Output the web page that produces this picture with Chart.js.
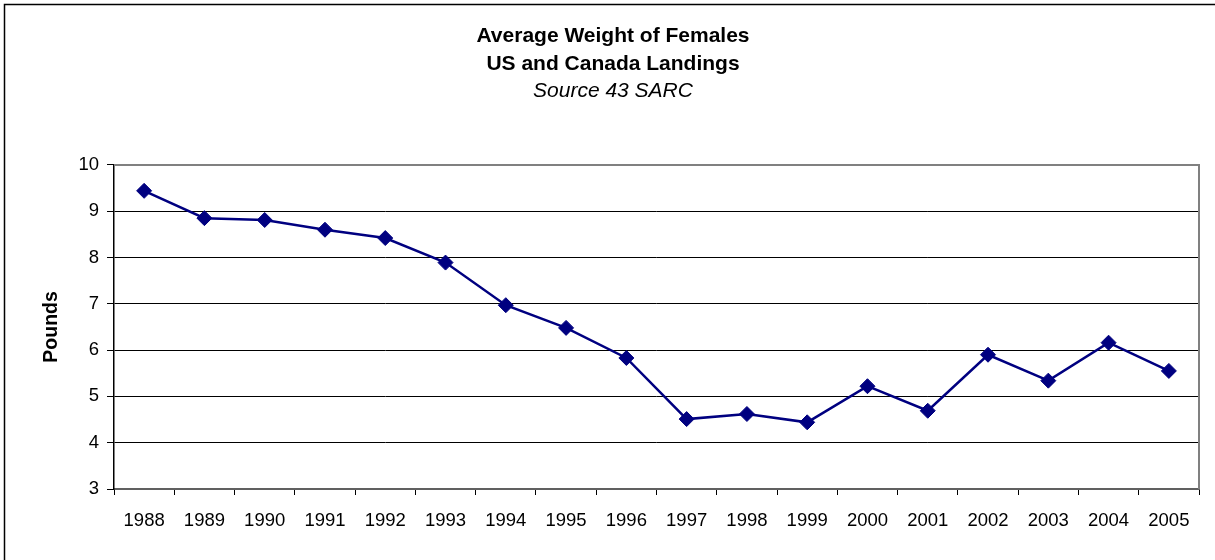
<!DOCTYPE html>
<html>
<head>
<meta charset="utf-8">
<script src="https://cdn.jsdelivr.net/npm/chart.js@4/dist/chart.umd.min.js"></script>
<style>
  html, body { margin: 0; padding: 0; background: #fff; }
  #wrap { width: 1215px; height: 560px; position: relative; }
</style>
</head>
<body>
<div id="wrap"><canvas id="grafico"></canvas></div>
<script>
const anos = ["1988", "1989", "1990", "1991", "1992", "1993", "1994", "1995", "1996",
  "1997", "1998", "1999", "2000", "2001", "2002", "2003", "2004", "2005"];
const pesoFemeas = [9.44, 8.85, 8.81, 8.60, 8.42, 7.89, 6.97, 6.48, 5.83,
  4.51, 4.62, 4.44, 5.22, 4.69, 5.90, 5.34, 6.16, 5.55];
const tituloLinhas = ["Average Weight of Females", "US and Canada Landings"];
const subtitulo = "Source 43 SARC";
const tituloEixoY = "Pounds";

const fonte = "'Liberation Sans', Arial, sans-serif";

// moldura externa e bordas cinza do quadro do grafico
const molduras = {
  id: "molduras",
  beforeDraw(chart) {
    const ctx = chart.ctx;
    ctx.save();
    ctx.strokeStyle = "#000";
    ctx.lineWidth = 1.5;
    ctx.strokeRect(4.5, 4.5, chart.width + 20, chart.height + 20);
    ctx.restore();
  },
  afterDatasetsDraw(chart) {
    const a = chart.chartArea;
    const ctx = chart.ctx;
    ctx.save();
    ctx.strokeStyle = "#808080";
    ctx.lineWidth = 2;
    ctx.beginPath();
    ctx.moveTo(a.left, a.top);
    ctx.lineTo(a.right, a.top);
    ctx.lineTo(a.right, a.bottom);
    ctx.stroke();
    ctx.restore();
  }
};

const ctx = document.getElementById("grafico").getContext("2d");
new Chart(ctx, {
  type: "line",
  data: {
    labels: anos,
    datasets: [{
      data: pesoFemeas,
      borderColor: "#000080",
      backgroundColor: "#000080",
      borderWidth: 2.5,
      pointStyle: "rectRot",
      pointRadius: 7.5,
      pointBorderWidth: 1,
      tension: 0
    }]
  },
  options: {
    responsive: true,
    maintainAspectRatio: false,
    animation: false,
    layout: { padding: { top: 23, right: 16, left: 27, bottom: 0 } },
    plugins: {
      legend: { display: false },
      tooltip: { enabled: false },
      title: {
        display: true,
        text: tituloLinhas,
        color: "#000",
        font: { family: fonte, size: 21, weight: "bold", lineHeight: 1.3 },
        padding: { top: 0, bottom: 0 }
      },
      subtitle: {
        display: true,
        text: subtitulo,
        color: "#000",
        font: { family: fonte, size: 21, style: "italic", lineHeight: 1.3 },
        padding: { top: 0, bottom: 60 }
      }
    },
    scales: {
      x: {
        offset: true,
        grid: {
          offset: true,
          drawOnChartArea: false,
          drawTicks: true,
          tickLength: 6,
          color: "#000"
        },
        border: { color: "#606060", width: 2 },
        ticks: {
          color: "#000",
          font: { family: fonte, size: 18.5 },
          maxRotation: 0,
          autoSkip: false,
          padding: 15
        },
        afterFit(scale) { scale.height = 71; }
      },
      y: {
        min: 3,
        max: 10,
        ticks: {
          stepSize: 1,
          color: "#000",
          font: { family: fonte, size: 18.5 },
          padding: 8
        },
        grid: {
          color: "#000",
          lineWidth: 1,
          tickLength: 7
        },
        border: { color: "#000", width: 1.5 },
        title: {
          display: true,
          text: tituloEixoY,
          color: "#000",
          font: { family: fonte, size: 19.5, weight: "bold" },
          padding: { top: 13, bottom: 0 }
        },
        afterFit(scale) { scale.width = 87; }
      }
    }
  },
  plugins: [molduras]
});
</script>
</body>
</html>
